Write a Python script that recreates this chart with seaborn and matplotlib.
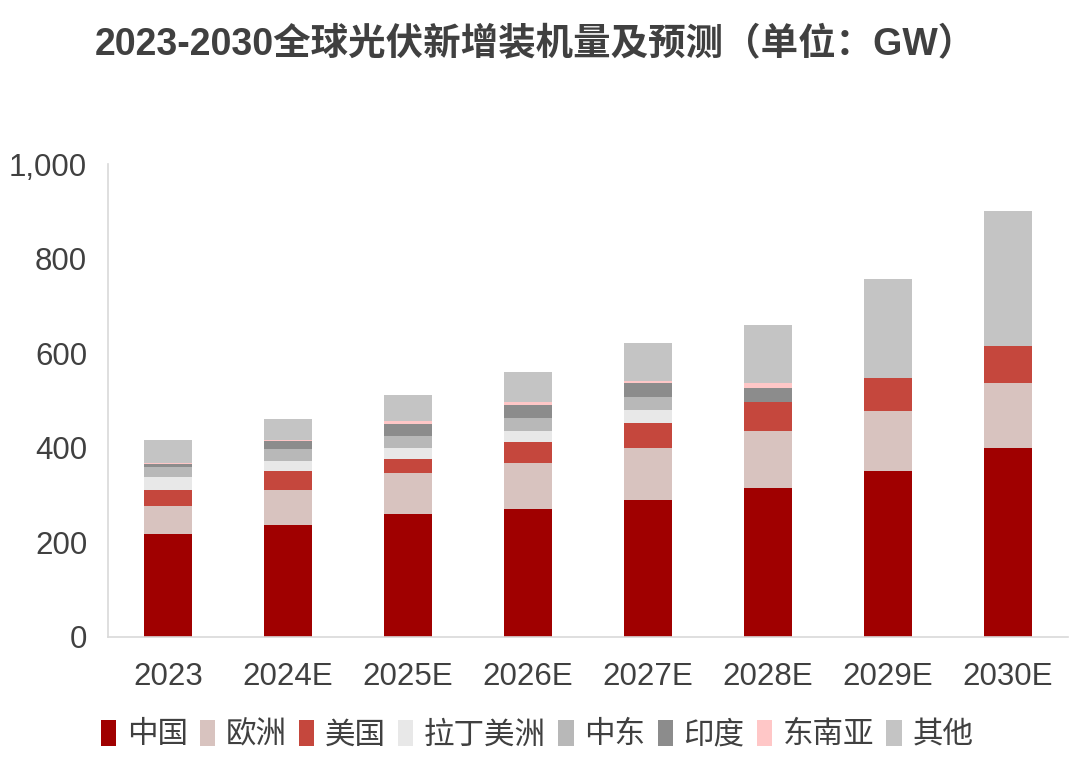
"""
2023-2030 global PV new installations, stacked by region
"""

import pandas as pd
import seaborn as sns
import matplotlib.pyplot as plt
from matplotlib.patches import Patch
from matplotlib.ticker import FuncFormatter

years = ['2023', '2024E', '2025E', '2026E', '2027E', '2028E', '2029E', '2030E']
china = [217, 236, 260, 270, 290, 315, 350, 400]
europe = [61, 75, 87, 98, 110, 120, 128, 138]
usa = [33, 40, 30, 44, 53, 62, 70, 78]
latam = [27, 22, 23, 23, 26, 0, 0, 0]
mideast = [22, 24, 26, 28, 29, 0, 0, 0]
india = [6, 17, 24, 27, 28, 30, 0, 0]
sea = [2, 2, 6, 7, 6, 10, 0, 0]
other = [48, 44, 56, 63, 80, 123, 208, 285]

regions = ['中国', '欧洲', '美国', '拉丁美洲', '中东', '印度', '东南亚', '其他']
colors = ['#A00000', '#D8C3BF', '#C5473D', '#E8E8E8', '#B8B8B8', '#8C8C8C', '#FFC7C7', '#C4C4C4']

sns.set_style('white')
plt.rcParams['font.family'] = ['Liberation Sans', 'Noto Sans CJK SC', 'DejaVu Sans']

df = pd.DataFrame({'year': years, '中国': china, '欧洲': europe, '美国': usa,
                   '拉丁美洲': latam, '中东': mideast, '印度': india,
                   '东南亚': sea, '其他': other})

# cumulative totals, drawn from the top layer down so each one covers the rest
cum = df[regions].cumsum(axis=1)
cum['year'] = df['year']

fig = plt.figure(figsize=(10.8, 7.69), dpi=100)
ax = fig.add_axes([108 / 1080, 132 / 769, 960 / 1080, 473 / 769])

for reg, col in reversed(list(zip(regions, colors))):
    sns.barplot(data=cum, x='year', y=reg, color=col, width=0.4, ax=ax,
                saturation=1, linewidth=0)

ax.set_xlim(-0.5, 7.5)
ax.set_ylim(0, 1000)
ax.set_yticks(range(0, 1001, 200))
ax.yaxis.set_major_formatter(FuncFormatter(lambda v, p: f'{int(v):,}'))
ax.set_xlabel('')
ax.set_ylabel('')
ax.tick_params(axis='both', length=0, labelsize=22.5, colors='#404040')
ax.tick_params(axis='x', pad=18)
ax.tick_params(axis='y', pad=15)

for s in ['top', 'right']:
    ax.spines[s].set_visible(False)
for s in ['left', 'bottom']:
    ax.spines[s].set_color('#D9D9D9')
    ax.spines[s].set_linewidth(1.2)

handles = [Patch(facecolor=c, edgecolor='none') for c in colors]
fig.legend(handles, regions, loc='center', bbox_to_anchor=(537 / 1080, 1 - 735 / 769),
           ncol=8, frameon=False, fontsize=22, handlelength=0.5, handleheight=0.95,
           handletextpad=0.35, columnspacing=0.4, labelcolor='#404040')

fig.text(535 / 1080, 1 - 45 / 769, '2023-2030全球光伏新增装机量及预测（单位：GW）',
         ha='center', va='center', fontsize=27, fontweight='bold', color='#404040')

fig.savefig('out.png', dpi=100)
